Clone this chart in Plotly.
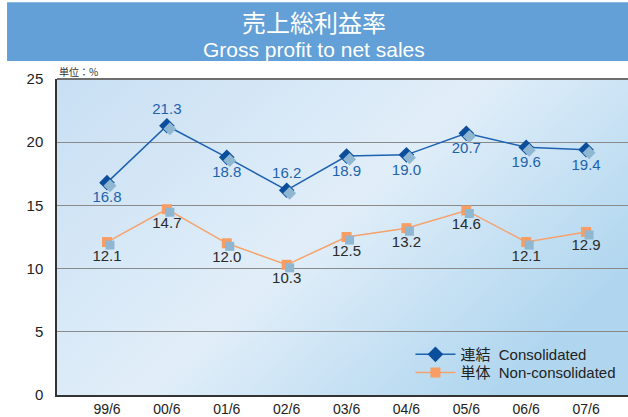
import plotly.graph_objects as go

categories = ["99/6", "00/6", "01/6", "02/6", "03/6", "04/6", "05/6", "06/6", "07/6"]
consolidated = [16.8, 21.3, 18.8, 16.2, 18.9, 19.0, 20.7, 19.6, 19.4]
non_consolidated = [12.1, 14.7, 12.0, 10.3, 12.5, 13.2, 14.6, 12.1, 12.9]
cons_label_pos = ["bottom center", "top center", "bottom center", "top center", "bottom center",
                  "bottom center", "bottom center", "bottom center", "bottom center"]
non_label_pos = ["bottom center"] * 9
y_ticks = [0, 5, 10, 15, 20, 25]

idx = list(range(len(categories)))
XR = [-0.835, 8.7]
YR = [0, 25]
dx = 0.05
dy = 0.24

BLUE_LINE = "#1c62b0"
BLUE_MK = "#0b4e9c"
ORANGE_LINE = "#f6a26c"
ORANGE_MK = "#f89d63"
SHADOW = "#8fb7d2"
FONT = "Liberation Sans, Arial, Noto Sans CJK JP, sans-serif"
JFONT = "Noto Sans CJK JP, Liberation Sans, sans-serif"

fig = go.Figure()

# shadows
for vals, sym in [(consolidated, "diamond"), (non_consolidated, "square")]:
    fig.add_trace(go.Scatter(
        x=idx, y=vals, mode="markers", xaxis="x2", yaxis="y2",
        marker=dict(symbol=sym, size=10 if sym == "diamond" else 9, color=SHADOW),
        showlegend=False, hoverinfo="skip"))

fig.add_trace(go.Scatter(
    x=idx, y=consolidated, mode="lines+markers+text", name="連結  Consolidated",
    line=dict(color=BLUE_LINE, width=1.5),
    marker=dict(symbol="diamond", size=12, color=BLUE_MK),
    text=[f"{v:.1f}" for v in consolidated], textposition=cons_label_pos,
    textfont=dict(family=FONT, size=15, color="#1d62ad"), legend="legend"))

fig.add_trace(go.Scatter(
    x=idx, y=non_consolidated, mode="lines+markers+text", name="単体  Non-consolidated",
    line=dict(color=ORANGE_LINE, width=1.5),
    marker=dict(symbol="square", size=10, color=ORANGE_MK),
    text=[f"{v:.1f}" for v in non_consolidated], textposition=non_label_pos,
    textfont=dict(family=FONT, size=15, color="#2a2a2a"), legend="legend2"))

svg = ("data:image/svg+xml;utf8,"
       "<svg xmlns='http://www.w3.org/2000/svg' width='571' height='317' preserveAspectRatio='none'>"
       "<defs><linearGradient id='g' x1='0' y1='0' x2='1' y2='0.6'>"
       "<stop offset='0' stop-color='%23c8dff3'/>"
       "<stop offset='0.55' stop-color='%23e1eef9'/>"
       "<stop offset='1' stop-color='%23b0d6ef'/>"
       "</linearGradient></defs>"
       "<rect width='571' height='317' fill='url(%23g)'/></svg>")

legend_common = dict(xanchor="left", yanchor="top", bgcolor="rgba(0,0,0,0)",
                     itemwidth=40, font=dict(family=FONT, size=15, color="#222"))

fig.update_layout(
    width=628, height=417,
    margin=dict(l=57, r=0, t=79, b=20),
    paper_bgcolor="white",
    plot_bgcolor="#d3e6f5",
    font=dict(family=FONT, color="#222"),
    images=[dict(source=svg, xref="paper", yref="paper", x=0, y=1, sizex=1, sizey=1,
                 sizing="stretch", layer="below", xanchor="left", yanchor="top")],
    xaxis=dict(range=XR, tickvals=idx, ticktext=categories, showgrid=False, zeroline=False,
               showline=True, linecolor="#333", linewidth=1.5, ticks="",
               tickfont=dict(size=14, color="#222")),
    yaxis=dict(range=YR, tickvals=y_ticks, showgrid=True, gridcolor="#8a8a8a", gridwidth=1.3,
               zeroline=False, showline=True, linecolor="#333", linewidth=1.5, ticks="",
               ticklabelstandoff=9, tickfont=dict(size=15, color="#222")),
    xaxis2=dict(range=[XR[0] - dx, XR[1] - dx], overlaying="x", visible=False),
    yaxis2=dict(range=[YR[0] + dy, YR[1] + dy], overlaying="y", visible=False),
    legend=dict(x=0.619, y=0.18, **legend_common),
    legend2=dict(x=0.619, y=0.123, **legend_common),
    shapes=[
        dict(type="rect", xref="paper", yref="paper", x0=-0.0875, x1=1.01, y0=1.0568, y1=1.243,
             fillcolor="#62a0d7", line=dict(width=0), layer="below"),
        dict(type="line", xref="paper", yref="paper", x0=0, x1=1, y0=1, y1=1,
             line=dict(color="#6e6e6e", width=2)),
    ],
    annotations=[
        dict(text="売上総利益率", xref="paper", yref="paper", x=0.45, y=1.183, xanchor="center",
             yanchor="middle", showarrow=False,
             font=dict(family=JFONT, size=24, color="white")),
        dict(text="Gross profit to net sales", xref="paper", yref="paper", x=0.45, y=1.092,
             xanchor="center", yanchor="middle", showarrow=False,
             font=dict(family=FONT, size=21, color="white")),
        dict(text="単位：%", xref="paper", yref="paper", x=0.0, y=1.0, xanchor="left",
             yanchor="bottom", showarrow=False, yshift=-2,
             font=dict(family=JFONT, size=10, color="#333")),
    ],
)

fig.write_html("out.html", config={"displayModeBar": False},
               post_script="document.body.style.margin='0';document.body.style.overflow='hidden';")
